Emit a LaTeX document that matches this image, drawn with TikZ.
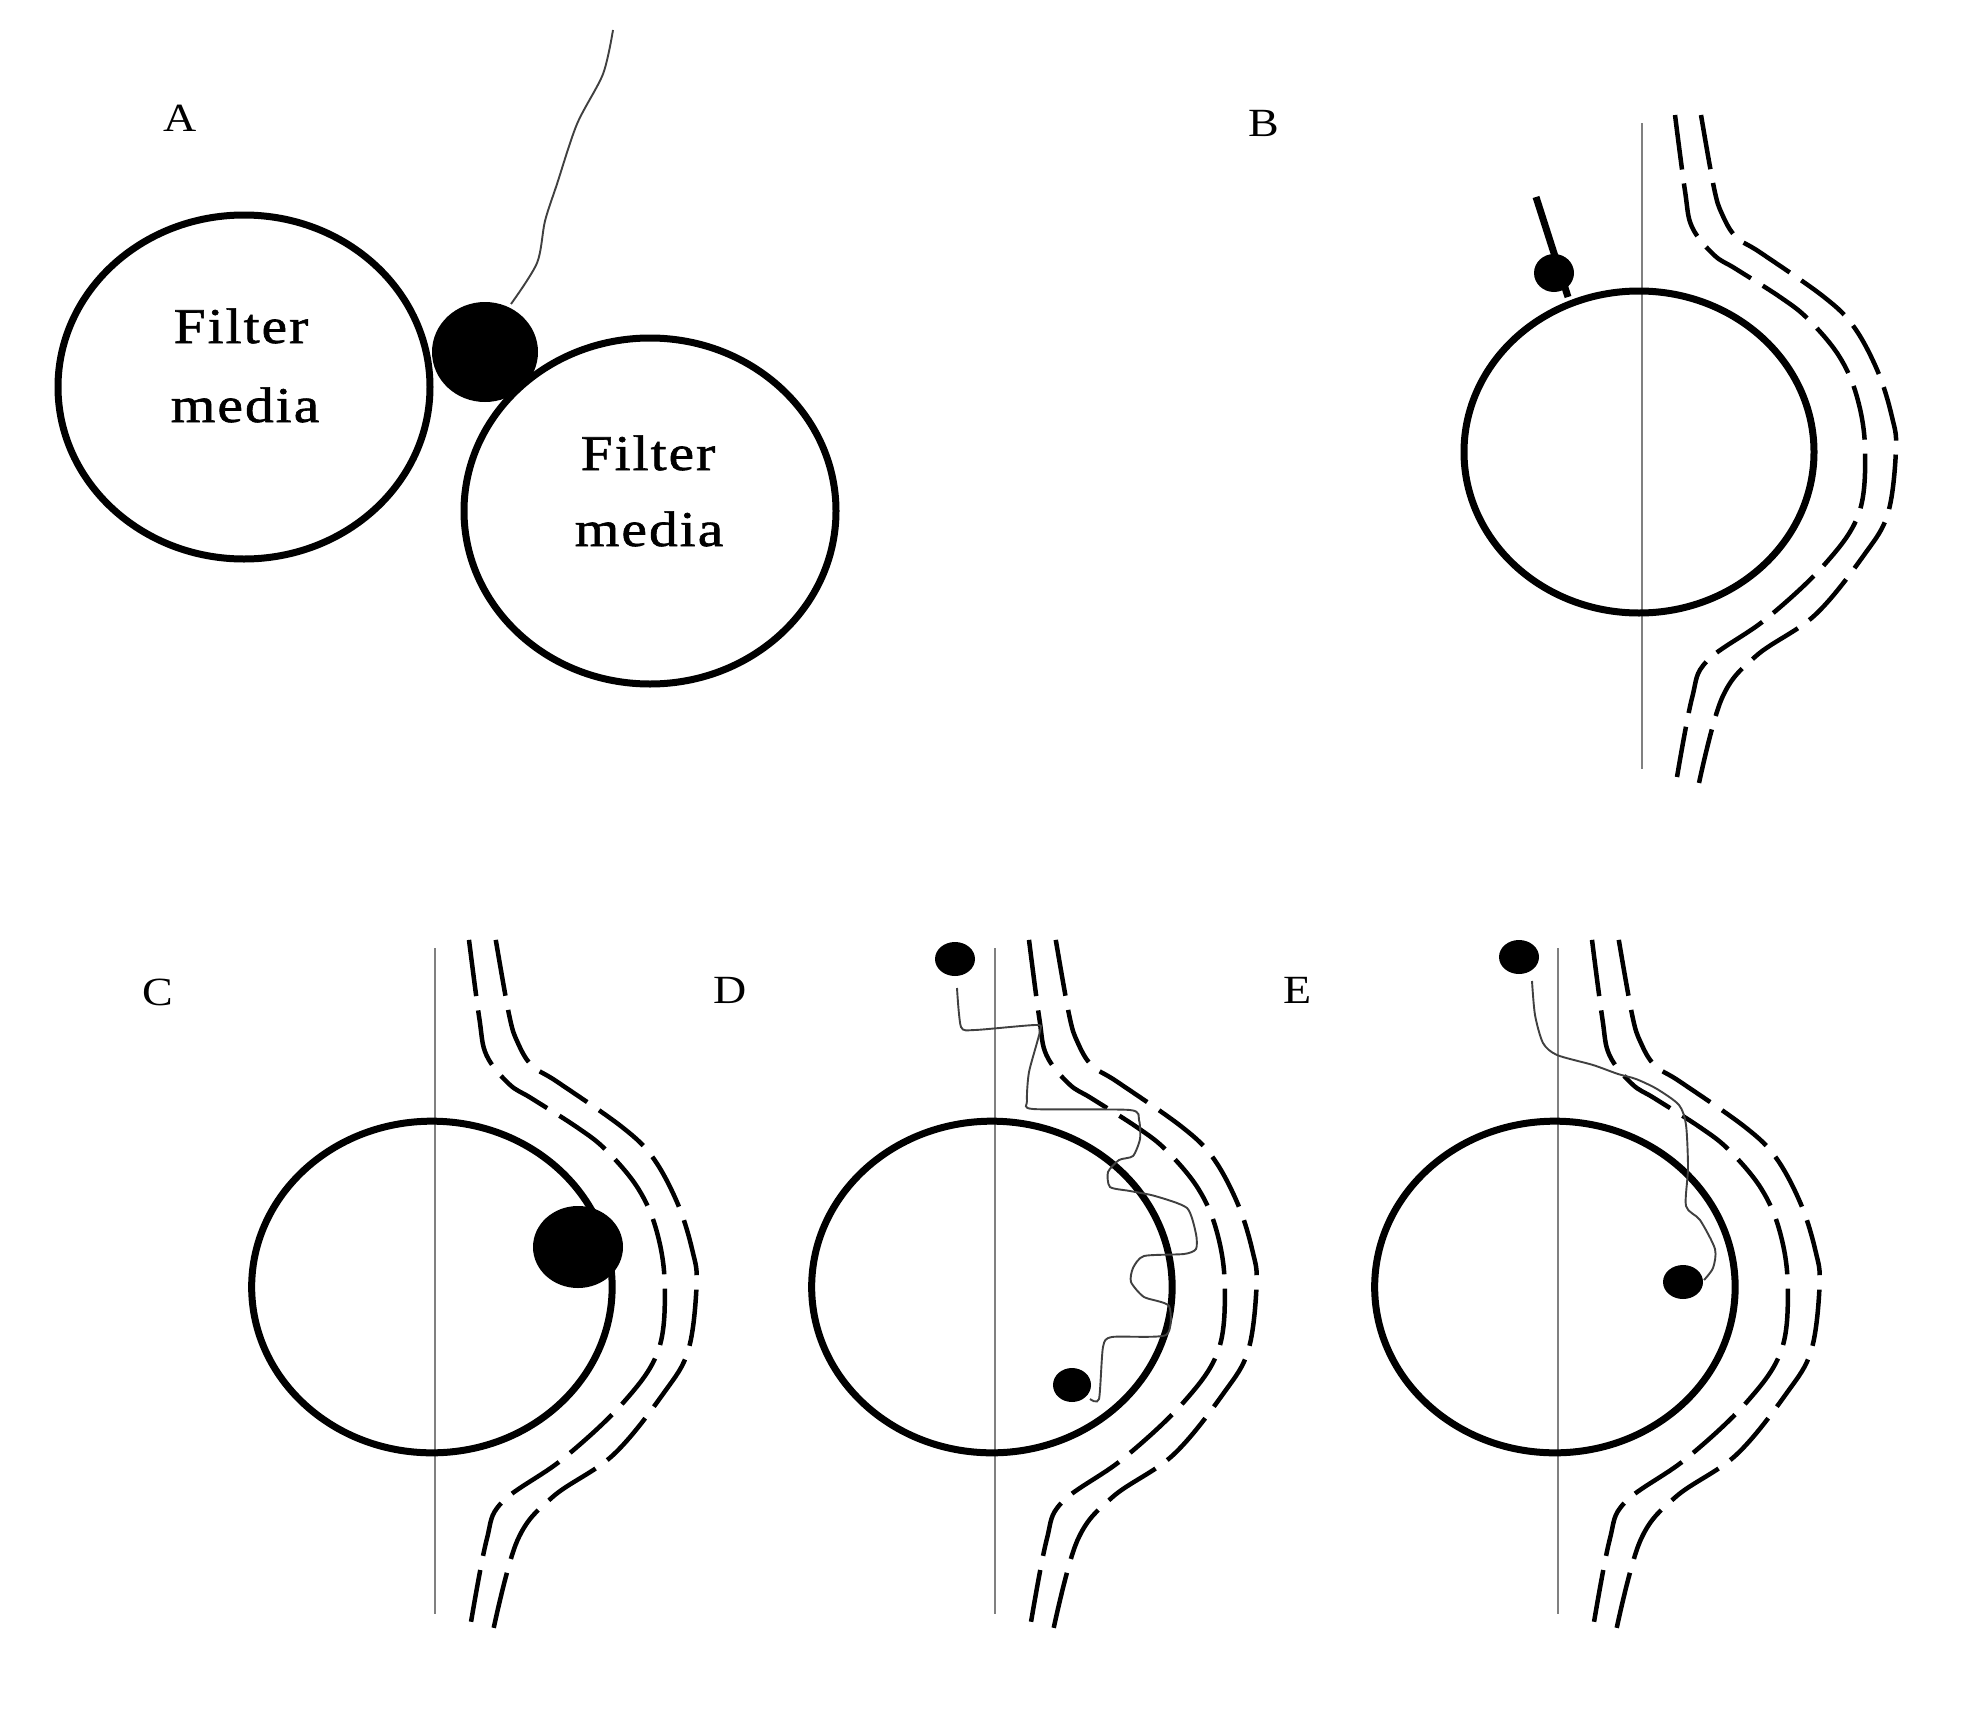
\documentclass[tikz,border=0pt]{standalone}
\usepackage{fontspec}
\setmainfont{Liberation Serif}[FakeStretch=1.15, LetterSpace=4, FakeBold=1.2]
\newfontfamily\lblfont{Liberation Serif}[FakeStretch=1.15]
\newcommand\collectorunit{%
  \draw[axisline] (0,-329) -- (0,317);
  \draw[fiber] (-3,0) ellipse [x radius=175, y radius=161];
  \draw[streamline] plot[smooth, tension=0.6] coordinates {(33,-337) (43,-261) (50,-225) (72,-197) (94,-183) (138,-155) (166,-133) (197,-96) (215,-55) (223,-3) (217,61) (183,112) (124,167) (65,209) (50,246) (35,325)};
  \draw[streamline] plot[smooth, tension=0.6] coordinates {(59,-337) (72,-264) (80,-238) (94,-215) (119,-199) (182,-155) (212,-125) (236,-80) (250,-35) (254,-3) (246,61) (222,103) (173,163) (114,204) (80,246) (57,331)};
}
\begin{document}
\begin{tikzpicture}[x=1pt, y=-1pt,
  fiber/.style={line width=7pt},
  axisline/.style={draw=black!50, line width=2.5pt},
  streamline/.style={line width=4.5pt, dash pattern=on 55pt off 14pt},
  track/.style={draw=black!75, line width=1.9pt},
  lbl/.style={font=\lblfont\fontsize{40}{48}\selectfont, anchor=base, inner sep=0pt},
  media/.style={font=\fontsize{50}{60}\selectfont, anchor=base, inner sep=0pt}]
\useasboundingbox[fill=white] (0,0) rectangle (1965,1713);

% Panel A
\draw[fiber] (244,387) ellipse [x radius=186, y radius=172];
\draw[fiber] (650,511) ellipse [x radius=186, y radius=173];
\fill (485,352) ellipse [x radius=53, y radius=50];
\draw[track] plot[smooth, tension=0.5] coordinates {(613,30) (603,74) (577,124) (557,184) (545,221) (537,263) (511,304)};
\node[lbl] (labA) at (180,131) {A};
\node[media] (fa1) at (241,343) {Filter};
\node[media] (fa2) at (245,422) {media};
\node[media] (fb1) at (648,470) {Filter};
\node[media] (fb2) at (649,546) {media};

% Panel B
\begin{scope}[shift={(1642,452)}]
  \collectorunit
\end{scope}
\draw[line width=7pt] (1536,197) -- (1568,297);
\fill (1554,273) ellipse [x radius=20, y radius=19];
\node[lbl] (labB) at (1264,136) {B};

% Panels C, D, E use the same unit, slightly enlarged
\begin{scope}[streamline/.style={line width=4.5pt, dash pattern=on 56.65pt off 14.42pt}]
\begin{scope}[shift={(435,1287)}, scale=1.03]
  \collectorunit
\end{scope}
\begin{scope}[shift={(995,1287)}, scale=1.03]
  \collectorunit
\end{scope}
\begin{scope}[shift={(1558,1287)}, scale=1.03]
  \collectorunit
\end{scope}
\end{scope}

% Panel C
\fill (578,1247) ellipse [x radius=45, y radius=41];
\node[lbl] (labC) at (158,1005) {C};

% Panel D
\fill (955,959) ellipse [x radius=20, y radius=17];
\fill (1072,1385) ellipse [x radius=19, y radius=17];
\draw[track] plot[smooth, tension=0.4] coordinates {(957,988) (961,1027) (975,1030) (1036,1025) (1040,1031) (1029,1072) (1027,1101) (1033,1109) (1130,1110) (1139,1120) (1140,1139) (1133,1156) (1119,1160) (1108,1172) (1110,1187) (1130,1191) (1155,1196) (1187,1208) (1196,1234) (1196,1249) (1184,1254) (1144,1256) (1133,1268) (1131,1282) (1144,1297) (1169,1306) (1166,1335) (1112,1337) (1103,1347) (1099,1399) (1090,1399)};
\node[lbl] (labD) at (730,1003) {D};

% Panel E
\fill (1519,957) ellipse [x radius=20, y radius=17];
\fill (1683,1282) ellipse [x radius=20, y radius=17];
\draw[track] plot[smooth, tension=0.45] coordinates {(1532,981) (1535,1015) (1543,1043) (1557,1055) (1593,1065) (1618,1074) (1636,1079) (1657,1089) (1679,1105) (1686,1125) (1688,1168) (1686,1206) (1700,1220) (1715,1249) (1713,1268) (1704,1280)};
\node[lbl] (labE) at (1298,1003) {E};
\end{tikzpicture}
\end{document}
